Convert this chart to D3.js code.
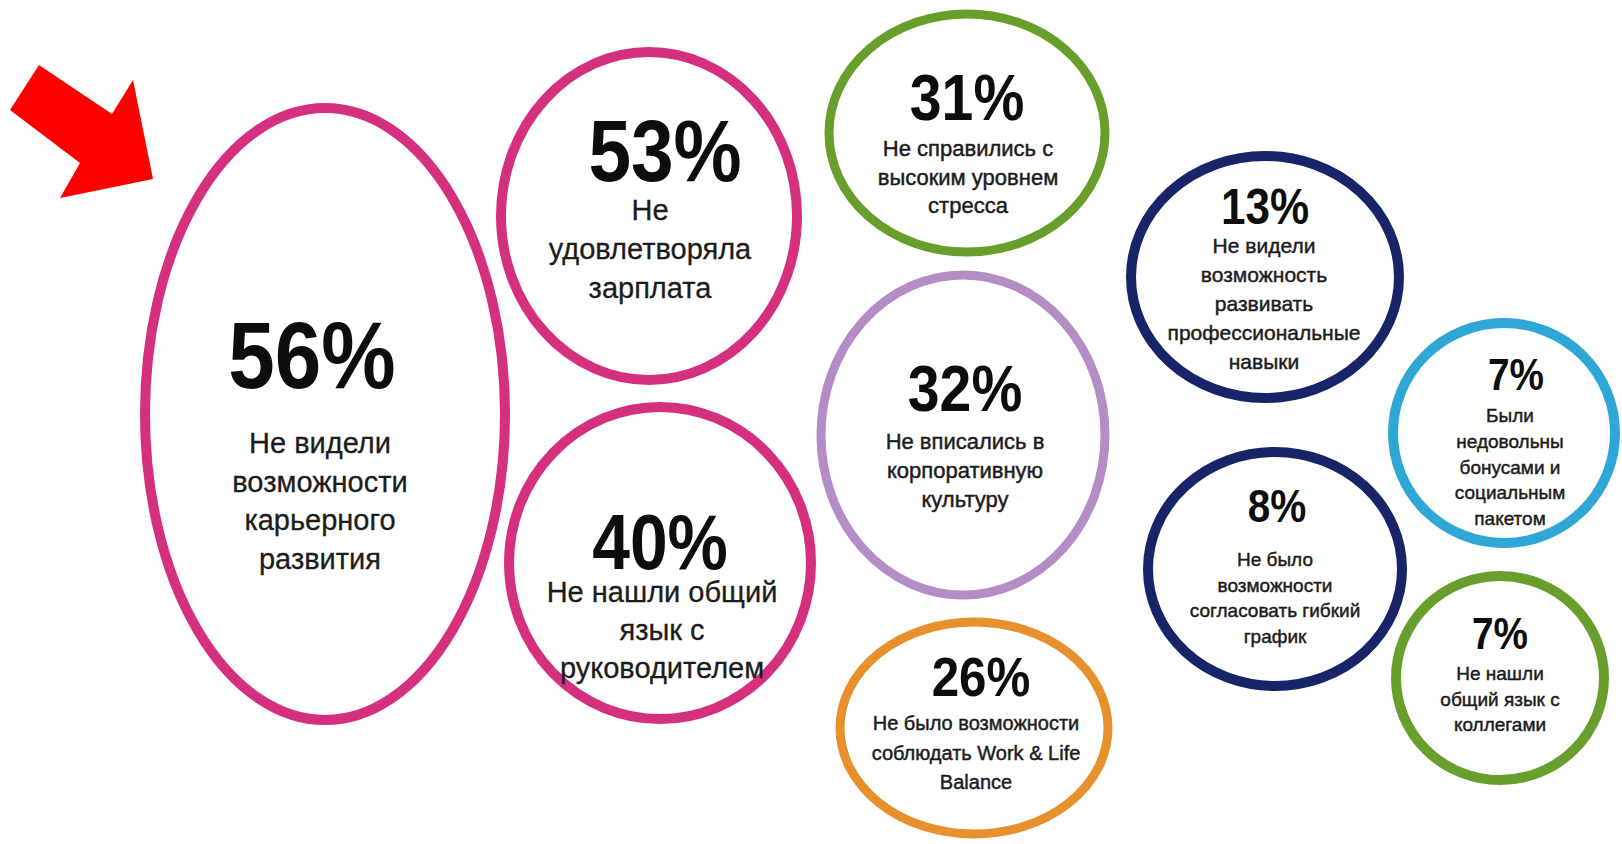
<!DOCTYPE html>
<html lang="ru">
<head>
<meta charset="utf-8">
<title>Причины ухода сотрудников</title>
<script src="https://cdn.jsdelivr.net/npm/d3@7"></script>
<style>
  html, body { margin: 0; padding: 0; background: #ffffff; }
  svg { display: block; }
  text { font-family: "Liberation Sans", Arial, Helvetica, sans-serif; }
</style>
</head>
<body>
<svg id="chart" width="1622" height="844"></svg>
<script>
// Share of employees naming each reason for leaving (%)
const values = [56, 53, 40, 31, 32, 26, 13, 7, 8, 7];

// Reason text, one entry per line
const captions = [
  ["Не видели", "возможности", "карьерного", "развития"],
  ["Не", "удовлетворяла", "зарплата"],
  ["Не нашли общий", "язык с", "руководителем"],
  ["Не справились с", "высоким уровнем", "стресса"],
  ["Не вписались в", "корпоративную", "культуру"],
  ["Не было возможности", "соблюдать Work & Life", "Balance"],
  ["Не видели", "возможность", "развивать", "профессиональные", "навыки"],
  ["Были", "недовольны", "бонусами и", "социальным", "пакетом"],
  ["Не было", "возможности", "согласовать гибкий", "график"],
  ["Не нашли", "общий язык с", "коллегами"]
];

// Ring colour group of each reason
const groups = ["career", "career", "career", "stress", "culture", "balance", "skills", "bonus", "skills", "stress"];
const groupNames = ["career", "stress", "culture", "balance", "skills", "bonus"];
const groupColors = ["#d4307e", "#689e2b", "#b48cc6", "#e8902e", "#172468", "#2ea6d6"];

// Bubble layout: ellipse centre/radii, ring width, label placement
const layout = [
  { cx: 325,  cy: 414, rx: 180, ry: 306, sw: 10, nx: 312,  ny: 388, ns: 95, tx: 320,  ty: 453, ts: 29, lh: 38.5 },
  { cx: 649,  cy: 216, rx: 148, ry: 164, sw: 10, nx: 665,  ny: 181, ns: 87, tx: 650,  ty: 220, ts: 29, lh: 39 },
  { cx: 660,  cy: 563, rx: 151, ry: 156, sw: 10, nx: 660,  ny: 569, ns: 77, tx: 662,  ty: 602, ts: 29, lh: 38 },
  { cx: 967,  cy: 133, rx: 138, ry: 119, sw: 9,  nx: 967,  ny: 120, ns: 65, tx: 968,  ty: 156, ts: 22, lh: 28.5 },
  { cx: 963,  cy: 435, rx: 142, ry: 160, sw: 9,  nx: 965,  ny: 411, ns: 65, tx: 965,  ty: 449, ts: 22, lh: 29 },
  { cx: 974,  cy: 728, rx: 134, ry: 106, sw: 9,  nx: 981,  ny: 696, ns: 56, tx: 976,  ty: 730, ts: 20, lh: 29.5 },
  { cx: 1265, cy: 277, rx: 134, ry: 121, sw: 10, nx: 1265, ny: 224, ns: 50, tx: 1264, ty: 253, ts: 21, lh: 29 },
  { cx: 1504, cy: 433, rx: 111, ry: 110, sw: 10, nx: 1516, ny: 390, ns: 44, tx: 1510, ty: 422, ts: 19, lh: 25.8 },
  { cx: 1275, cy: 569, rx: 127, ry: 117, sw: 10, nx: 1277, ny: 522, ns: 46, tx: 1275, ty: 566, ts: 19, lh: 25.7 },
  { cx: 1500, cy: 678, rx: 104, ry: 102, sw: 10, nx: 1500, ny: 649, ns: 44, tx: 1500, ty: 680, ts: 19, lh: 25.5 }
];

// Red pointer arrow outline
const arrowShape = [[39, 65], [112, 114], [133, 80], [153, 179], [60, 198], [80, 163], [10, 110]];

const color = d3.scaleOrdinal().domain(groupNames).range(groupColors);
const pct = d3.format(".0f");

const svg = d3.select("#chart");

svg.append("rect")
  .attr("width", 1622).attr("height", 844)
  .attr("fill", "#ffffff");

const data = values.map((v, i) => ({ value: v, lines: captions[i], group: groups[i], ...layout[i] }));

const bubble = svg.selectAll("g.bubble")
  .data(data)
  .join("g")
  .attr("class", "bubble");

bubble.append("ellipse")
  .attr("cx", d => d.cx)
  .attr("cy", d => d.cy)
  .attr("rx", d => d.rx)
  .attr("ry", d => d.ry)
  .attr("fill", "none")
  .attr("stroke", d => color(d.group))
  .attr("stroke-width", d => d.sw);

bubble.append("text")
  .attr("transform", d => `translate(${d.nx},${d.ny}) scale(0.88,1)`)
  .attr("text-anchor", "middle")
  .attr("font-weight", "bold")
  .attr("font-size", d => d.ns)
  .attr("fill", "#0d0d0d")
  .text(d => pct(d.value) + "%");

bubble.append("text")
  .attr("text-anchor", "middle")
  .attr("font-size", d => d.ts)
  .attr("fill", "#1c1c1c")
  .attr("stroke", "#1c1c1c")
  .attr("stroke-width", d => d.ts > 25 ? 0.3 : 0.45)
  .each(function (d) {
    d3.select(this).selectAll("tspan")
      .data(d.lines)
      .join("tspan")
      .attr("x", d.tx)
      .attr("y", (line, j) => d.ty + j * d.lh)
      .text(line => line);
  });

svg.append("path")
  .attr("d", d3.line()(arrowShape) + "Z")
  .attr("fill", "#ff0000");
</script>
</body>
</html>
